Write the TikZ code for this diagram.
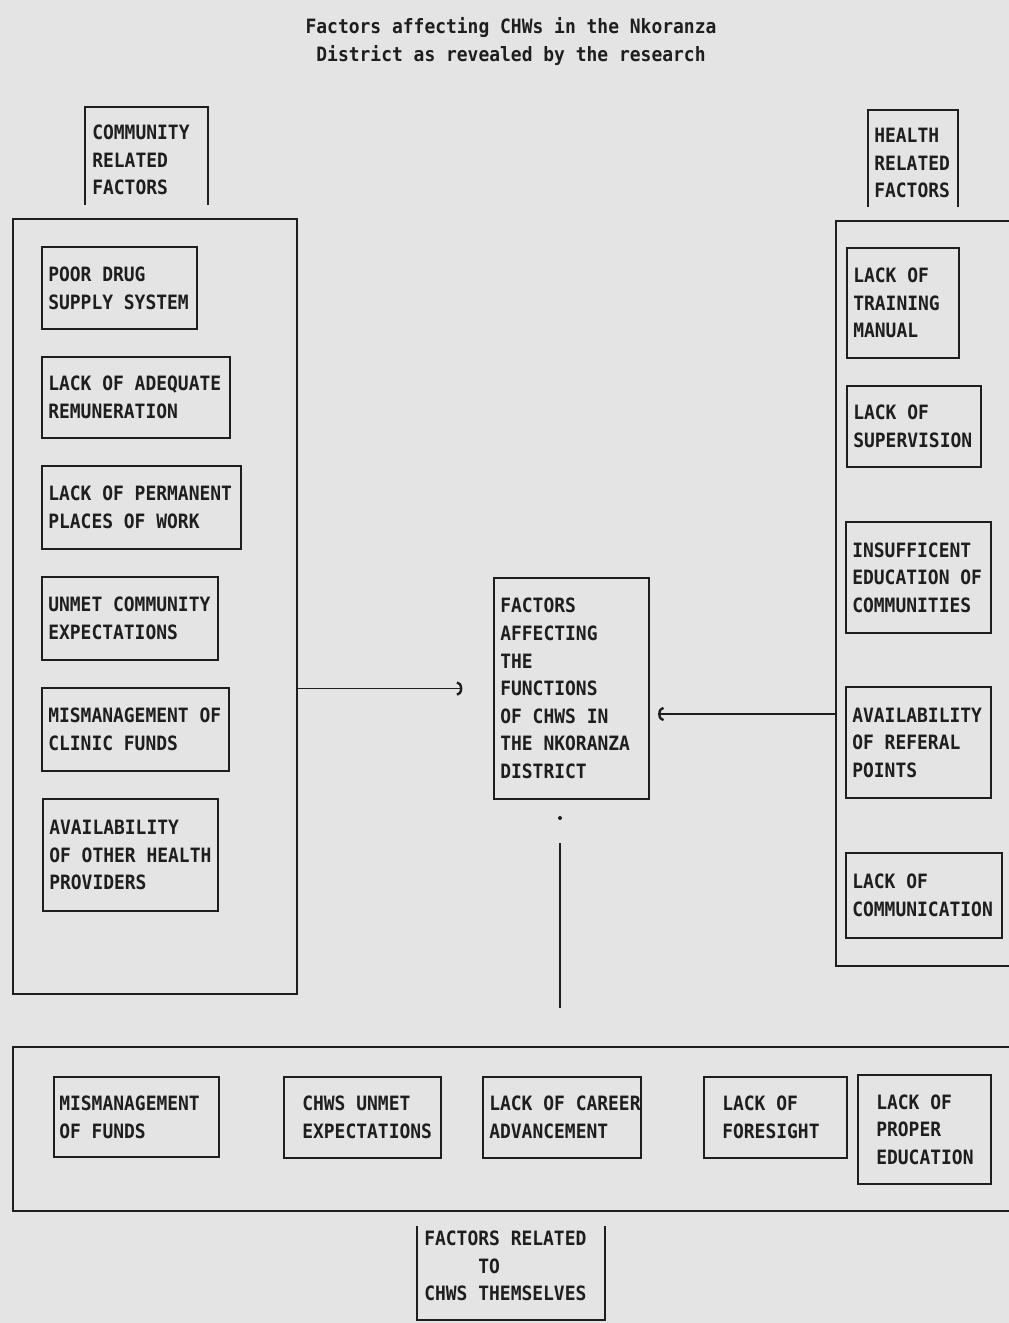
\documentclass[tikz,border=0pt]{standalone}
\usepackage{fontspec}
\setmonofont[FakeStretch=0.91]{DejaVu Sans Mono}
\usetikzlibrary{arrows.meta}
\definecolor{paper}{RGB}{228,228,228}
\definecolor{ink}{RGB}{30,30,30}
\tikzset{
  frame/.style={draw=ink, line width=1.6pt, inner sep=0pt},
  txt/.style={font=\ttfamily\bfseries\fontsize{14.8}{20.7}\selectfont, text=ink, align=left, inner sep=0pt, anchor=west},
  conn/.style={draw=ink, line width=1.3pt},
  arr/.style={conn, -{Arc Barb[length=4pt, width=11pt, line width=1.8pt]}},
}
\newcommand\frm[5]{%
  \pgfmathsetmacro\mybw{(#4-#2)*0.75}%
  \pgfmathsetmacro\mybh{(#5-#3)*0.75}%
  \node[frame, anchor=north west, minimum width=\mybw pt, minimum height=\mybh pt] (#1) at (#2,#3) {};%
}
\newcommand\bx[7]{%
  \frm{#1}{#2}{#3}{#4}{#5}%
  \node[txt] (#1-t) at ([xshift=#6*0.75pt]#1.west) {#7};%
}
\begin{document}
\begin{tikzpicture}[x=0.75pt, y=-0.75pt]
\fill[paper] (0,0) rectangle (1009,1323);
\useasboundingbox (0,0) rectangle (1009,1323);
\clip (0,0) rectangle (1009,1323);

% title
\node[txt, anchor=center, align=center] (title) at (511,41.5) {Factors affecting CHWs in the Nkoranza\\District as revealed by the research};

% headers
\node[txt] (hc) at (92,160) {COMMUNITY\\RELATED\\FACTORS};
\draw[frame] (85,205) -- (85,107) -- (208,107) -- (208,205);
\node[txt] (hh) at (874,163) {HEALTH\\RELATED\\FACTORS};
\draw[frame] (868,207) -- (868,110) -- (958,110) -- (958,207);
\node[txt] (hs) at (424,1266) {FACTORS RELATED\\\phantom{XXXXX}TO\\CHWS THEMSELVES};
\draw[frame] (417,1226) -- (417,1320) -- (605,1320) -- (605,1226);

% big frames
\frm{L}{12}{218}{296}{993}
\frm{R}{835}{220}{1013}{965}
\frm{B}{12}{1046}{1013}{1210}

% central
\bx{C}{493}{577}{648}{798}{7}{FACTORS\\AFFECTING\\THE\\FUNCTIONS\\OF CHWS IN\\THE NKORANZA\\DISTRICT}

% left
\bx{l1}{41}{246}{196}{328}{7}{POOR DRUG\\SUPPLY SYSTEM}
\bx{l2}{41}{356}{229}{437}{7}{LACK OF ADEQUATE\\REMUNERATION}
\bx{l3}{41}{465}{240}{548}{7}{LACK OF PERMANENT\\PLACES OF WORK}
\bx{l4}{41}{576}{217}{659}{7}{UNMET COMMUNITY\\EXPECTATIONS}
\bx{l5}{41}{687}{228}{770}{7}{MISMANAGEMENT OF\\CLINIC FUNDS}
\bx{l6}{42}{798}{217}{910}{7}{AVAILABILITY\\OF OTHER HEALTH\\PROVIDERS}

% right
\bx{r1}{846}{247}{958}{357}{7}{LACK OF\\TRAINING\\MANUAL}
\bx{r2}{846}{385}{980}{466}{7}{LACK OF\\SUPERVISION}
\bx{r3}{845}{521}{990}{632}{7}{INSUFFICENT\\EDUCATION OF\\COMMUNITIES}
\bx{r4}{845}{686}{990}{797}{7}{AVAILABILITY\\OF REFERAL\\POINTS}
\bx{r5}{845}{852}{1001}{937}{7}{LACK OF\\COMMUNICATION}

% bottom
\bx{b1}{53}{1076}{218}{1156}{6}{MISMANAGEMENT\\OF FUNDS}
\bx{b2}{283}{1076}{440}{1157}{19}{CHWS UNMET\\EXPECTATIONS}
\bx{b3}{482}{1076}{640}{1157}{7}{LACK OF CAREER\\ADVANCEMENT}
\bx{b4}{703}{1076}{846}{1157}{19}{LACK OF\\FORESIGHT}
\bx{b5}{857}{1074}{990}{1183}{19}{LACK OF\\PROPER\\EDUCATION}

% connectors
\draw[arr] (L.east |- C.west) -- ([xshift=-23pt]C.west);
\coordinate (ry) at (0,714);
\coordinate (ra) at ([xshift=6pt]C.east);
\draw[arr] (R.west |- ry) -- (ra |- ry);
\node[circle, fill=ink, inner sep=0pt, minimum size=3pt] (dot) at (560,818) {};
\coordinate (vt) at (560,843);
\coordinate (vb) at (560,1008);
\draw[conn] (vt) -- (vb);
\end{tikzpicture}
\end{document}
